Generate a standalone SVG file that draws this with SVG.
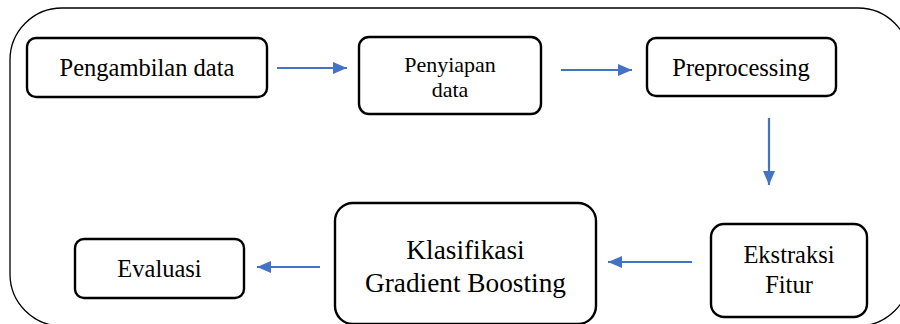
<svg xmlns="http://www.w3.org/2000/svg" width="900" height="324" viewBox="0 0 900 324">
  <defs>
    <style>
      .box { fill: #ffffff; stroke: #000000; stroke-width: 2.4; }
      .frame { fill: none; stroke: #000000; stroke-width: 1.3; }
      .lbl { font-family: "Liberation Serif", "Times New Roman", serif; fill: #000000; text-anchor: middle; }
      .flow { stroke: #4472C4; stroke-width: 2.2; fill: none; marker-end: url(#head); }
    </style>
    <marker id="head" viewBox="0 0 14 12" refX="14" refY="6" markerWidth="14" markerHeight="12" markerUnits="userSpaceOnUse" orient="auto">
      <path d="M0,0 L14,6 L0,12 Z" fill="#4472C4"/>
    </marker>
  </defs>

  <rect width="900" height="324" fill="#ffffff"/>

  <!-- enclosing frame -->
  <rect class="frame" x="10" y="8" width="900" height="318" rx="52" ry="52"/>

  <g id="node-pengambilan">
    <rect class="box" x="27" y="38" width="240" height="59" rx="9"/>
    <text class="lbl" x="147" y="76" font-size="24.5">Pengambilan data</text>
  </g>

  <g id="node-penyiapan">
    <rect class="box" x="359" y="37" width="182" height="77" rx="10"/>
    <text class="lbl" x="450" y="72" font-size="22">Penyiapan</text>
    <text class="lbl" x="450" y="97" font-size="22">data</text>
  </g>

  <g id="node-preprocessing">
    <rect class="box" x="647" y="38" width="189" height="58" rx="9"/>
    <text class="lbl" x="741" y="76" font-size="24.5">Preprocessing</text>
  </g>

  <g id="node-ekstraksi">
    <rect class="box" x="711" y="224" width="156" height="93" rx="13"/>
    <text class="lbl" x="789" y="263" font-size="24.5">Ekstraksi</text>
    <text class="lbl" x="789" y="293" font-size="24.5">Fitur</text>
  </g>

  <g id="node-klasifikasi">
    <rect class="box" x="335" y="203" width="261" height="121" rx="18"/>
    <text class="lbl" x="465.5" y="259" font-size="27.3">Klasifikasi</text>
    <text class="lbl" x="465.5" y="292" font-size="27.3">Gradient Boosting</text>
  </g>

  <g id="node-evaluasi">
    <rect class="box" x="75" y="239" width="169" height="59" rx="9"/>
    <text class="lbl" x="159.5" y="277" font-size="24.5">Evaluasi</text>
  </g>

  <g id="connectors">
    <line class="flow" x1="277" y1="68" x2="347" y2="68"/>
    <line class="flow" x1="561" y1="70" x2="632" y2="70"/>
    <line class="flow" x1="769" y1="118" x2="769" y2="185"/>
    <line class="flow" x1="692" y1="262" x2="608" y2="262"/>
    <line class="flow" x1="320" y1="267" x2="257" y2="267"/>
  </g>
</svg>
